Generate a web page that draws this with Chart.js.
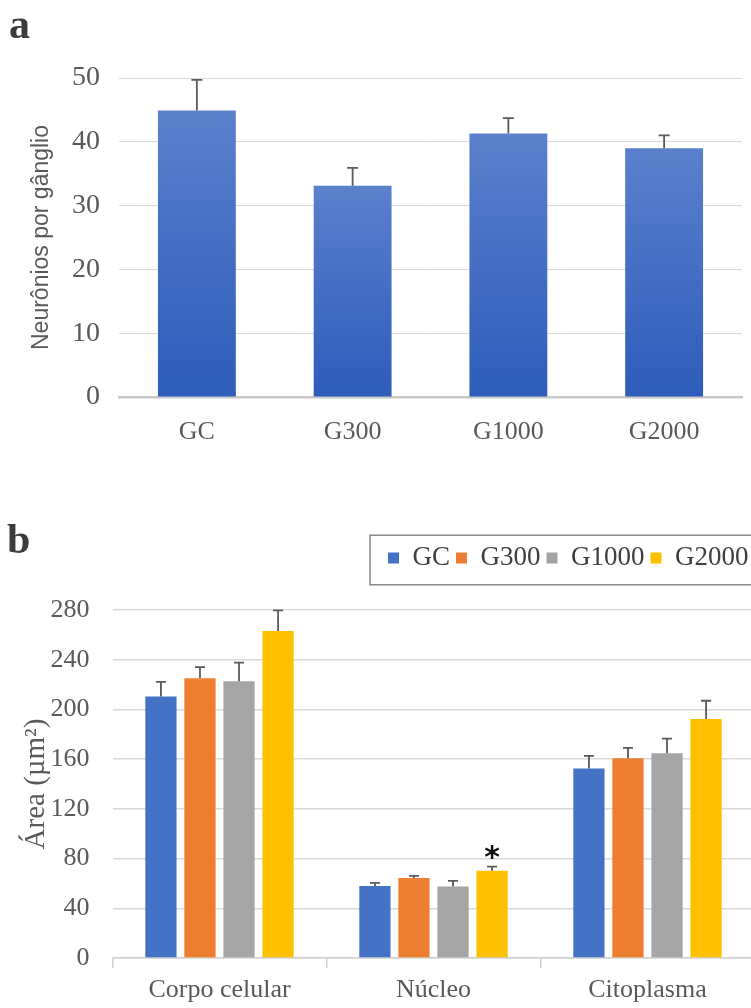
<!DOCTYPE html>
<html>
<head>
<meta charset="utf-8">
<script src="https://cdn.jsdelivr.net/npm/chart.js@4/dist/chart.umd.min.js"></script>
<style>
  html, body { margin: 0; padding: 0; background: #ffffff; overflow: hidden; }
  body { width: 751px; height: 1008px; position: relative; }
  .panel-letter { position: absolute; font-family: "Liberation Serif", serif; font-weight: bold; color: #3c3c3c; line-height: 1; }
  #wrapA { position: absolute; left: 0; top: 0; width: 751px; height: 460px; }
  #wrapB { position: absolute; left: 0; top: 500px; width: 760px; height: 508px; }
</style>
</head>
<body>
<div id="wrapA"><canvas id="chartA" width="751" height="460"></canvas></div>
<div id="wrapB"><canvas id="chartB" width="760" height="508"></canvas></div>
<div class="panel-letter" style="left:9px; top:3px; font-size:42px;">a</div>
<div class="panel-letter" style="left:7px; top:518px; font-size:42px;">b</div>
<script>
// Panel a: neurons per ganglion
const groupsA = ['GC', 'G300', 'G1000', 'G2000'];
const neuronsMean = [44.9, 33.1, 41.3, 39.0];
const neuronsErr = [4.8, 2.8, 2.4, 2.0];
const ticksA = { min: 0, max: 50, step: 10 };

// Panel b: cell areas
const regionsB = ['Corpo celular', 'Núcleo', 'Citoplasma'];
const seriesNames = ['GC', 'G300', 'G1000', 'G2000'];
const areaGC = [210.4, 58.0, 152.4];
const areaG300 = [225.1, 64.4, 160.7];
const areaG1000 = [222.7, 57.5, 164.7];
const areaG2000 = [263.1, 70.3, 192.2];
const errGC = [11.8, 2.4, 10.2];
const errG300 = [8.9, 1.6, 8.3];
const errG1000 = [15.0, 4.5, 11.8];
const errG2000 = [16.6, 3.2, 14.8];
const starsG2000 = ['', '*', ''];
const ticksB = { min: 0, max: 280, step: 40 };

const seriesColors = ['#4472C4', '#ED7D31', '#A5A5A5', '#FFC000'];
const tickColor = '#595959';
const serif = '"Liberation Serif", "Times New Roman", serif';

// Draws an upward error bar with a cap on every bar
const errorBarPlugin = {
  id: 'errorBars',
  afterDatasetsDraw(chart, args, opts) {
    const { ctx } = chart;
    const yScale = chart.scales.y;
    ctx.save();
    ctx.strokeStyle = opts.color;
    ctx.lineWidth = opts.width;
    chart.data.datasets.forEach((ds, i) => {
      if (!ds.errorBars) return;
      const meta = chart.getDatasetMeta(i);
      meta.data.forEach((bar, j) => {
        const top = yScale.getPixelForValue(ds.data[j] + ds.errorBars[j]);
        ctx.beginPath();
        ctx.moveTo(bar.x, bar.y);
        ctx.lineTo(bar.x, top);
        ctx.moveTo(bar.x - opts.cap / 2, top);
        ctx.lineTo(bar.x + opts.cap / 2, top);
        ctx.stroke();
      });
    });
    ctx.restore();
  }
};

// Significance marks written above the error bar of a bar
const starPlugin = {
  id: 'stars',
  afterDatasetsDraw(chart, args, opts) {
    const { ctx } = chart;
    const yScale = chart.scales.y;
    ctx.save();
    ctx.fillStyle = opts.color;
    ctx.font = opts.font;
    ctx.textAlign = 'center';
    ctx.textBaseline = 'alphabetic';
    chart.data.datasets.forEach((ds, i) => {
      if (!ds.stars) return;
      const meta = chart.getDatasetMeta(i);
      meta.data.forEach((bar, j) => {
        if (!ds.stars[j]) return;
        const top = yScale.getPixelForValue(ds.data[j] + (ds.errorBars ? ds.errorBars[j] : 0));
        ctx.fillText(ds.stars[j], bar.x, top + opts.offset);
      });
    });
    ctx.restore();
  }
};

// Frame around the legend row
const legendFramePlugin = {
  id: 'legendFrame',
  afterDraw(chart, args, opts) {
    const lg = chart.legend;
    if (!lg || !lg.legendHitBoxes || !lg.legendHitBoxes.length) return;
    const { ctx } = chart;
    const left = lg.legendHitBoxes[0].left - opts.inset;
    const top = lg.top - opts.grow + opts.width / 2;
    const h = lg.height + 2 * opts.grow - opts.width;
    ctx.save();
    ctx.strokeStyle = opts.color;
    ctx.lineWidth = opts.width;
    ctx.strokeRect(left, top, chart.width - left + 10, h);
    ctx.restore();
  }
};

// Panel a
const barGradient = (context) => {
  const chart = context.chart;
  const y = chart.scales.y;
  if (!y || context.parsed === undefined) return '#4470c4';
  const top = y.getPixelForValue(context.parsed.y);
  const bottom = y.getPixelForValue(0);
  if (!isFinite(top) || !isFinite(bottom) || top === bottom) return '#4470c4';
  const g = chart.ctx.createLinearGradient(0, top, 0, bottom);
  g.addColorStop(0, '#5b80cc');
  g.addColorStop(1, '#2d5cba');
  return g;
};

new Chart(document.getElementById('chartA'), {
  type: 'bar',
  data: {
    labels: groupsA,
    datasets: [{
      data: neuronsMean,
      errorBars: neuronsErr,
      backgroundColor: barGradient,
      borderWidth: 0,
      barPercentage: 0.5,
      categoryPercentage: 1.0
    }]
  },
  options: {
    responsive: false,
    animation: false,
    devicePixelRatio: 1,
    layout: { padding: { top: 78, right: 9, bottom: 0, left: 0 } },
    plugins: {
      legend: { display: false },
      tooltip: { enabled: false },
      errorBars: { color: '#5a5a5a', width: 1.8, cap: 11 }
    },
    scales: {
      x: {
        grid: { display: false },
        border: { display: true, color: '#c8c8c8', width: 2.5 },
        ticks: { color: tickColor, font: { family: serif, size: 26 }, padding: 12 },
        afterFit: (s) => { s.height = 63; }
      },
      y: {
        min: ticksA.min,
        max: ticksA.max,
        grid: { color: '#dadada', lineWidth: 1, drawTicks: false },
        border: { display: false },
        ticks: { stepSize: ticksA.step, color: tickColor, font: { family: serif, size: 28 }, padding: 19 },
        title: {
          display: true,
          text: 'Neurônios por gânglio',
          color: '#595959',
          font: { family: '"Liberation Sans", Arial, sans-serif', size: 23 },
          padding: { top: 28, bottom: 0 }
        },
        afterFit: (s) => { s.width = 119; }
      }
    }
  },
  plugins: [errorBarPlugin]
});

// Panel b
const areaSeries = [areaGC, areaG300, areaG1000, areaG2000];
const errSeries = [errGC, errG300, errG1000, errG2000];
const starSeries = [null, null, null, starsG2000];

new Chart(document.getElementById('chartB'), {
  type: 'bar',
  data: {
    labels: regionsB,
    datasets: seriesNames.map((name, i) => ({
      label: name,
      data: areaSeries[i],
      errorBars: errSeries[i],
      stars: starSeries[i],
      backgroundColor: seriesColors[i],
      borderWidth: 0,
      barPercentage: 0.8,
      categoryPercentage: 0.73
    }))
  },
  options: {
    responsive: false,
    animation: false,
    devicePixelRatio: 1,
    layout: { padding: { top: 38.5, right: 5.5, bottom: 0, left: 0 } },
    plugins: {
      legend: {
        display: true,
        position: 'top',
        align: 'end',
        labels: {
          color: '#404040',
          font: { family: serif, size: 27 },
          boxWidth: 11,
          boxHeight: 11,
          padding: 6
        }
      },
      subtitle: {
        display: true,
        text: '',
        position: 'top',
        weight: 500,
        font: { size: 10 },
        padding: { top: 16.5, bottom: 0 }
      },
      tooltip: { enabled: false },
      errorBars: { color: '#5a5a5a', width: 1.8, cap: 10 },
      stars: { color: '#111111', font: 'bold 30px "DejaVu Sans", sans-serif', offset: 0 },
      legendFrame: { color: '#8a8a8a', width: 1.5, inset: 18, grow: 4 }
    },
    scales: {
      x: {
        grid: { display: true, drawOnChartArea: false, drawTicks: true, tickLength: 10, color: '#d0d0d0', lineWidth: 1.5 },
        border: { display: true, color: '#d0d0d0', width: 1.5 },
        ticks: { color: tickColor, font: { family: serif, size: 26 }, padding: 7 },
        afterFit: (s) => { s.height = 50; }
      },
      y: {
        min: ticksB.min,
        max: ticksB.max,
        grid: { color: '#dadada', lineWidth: 1.5, drawTicks: false },
        border: { display: false },
        ticks: { stepSize: ticksB.step, color: tickColor, font: { family: serif, size: 26 }, padding: 23 },
        title: {
          display: true,
          text: 'Área (µm²)',
          color: '#595959',
          font: { family: serif, size: 29 },
          padding: { top: 19, bottom: 0 }
        },
        afterFit: (s) => { s.width = 112.5; }
      }
    }
  },
  plugins: [errorBarPlugin, starPlugin, legendFramePlugin]
});
</script>
</body>
</html>
